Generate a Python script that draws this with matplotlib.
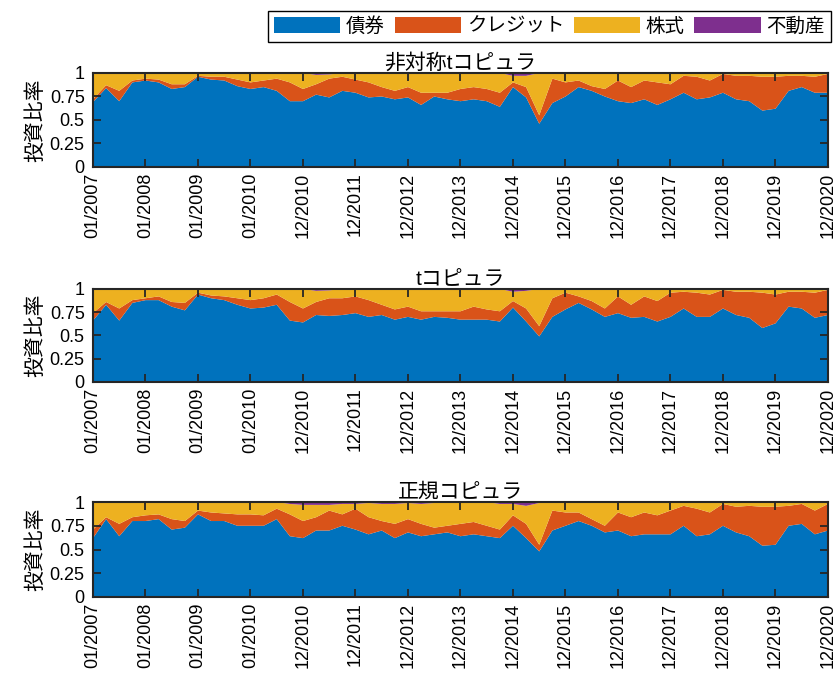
import numpy as np
import matplotlib
matplotlib.use("Agg")
import matplotlib.pyplot as plt
from matplotlib.patches import Patch

plt.rcParams['font.family'] = ['Liberation Sans', 'Noto Sans CJK JP', 'DejaVu Sans']

# 資産クラスと系列名
assets = ['債券', 'クレジット', '株式', '不動産']
colors = ['#0072BD', '#D95319', '#EDB120', '#7E2F8E']
titles = ['非対称tコピュラ', 'tコピュラ', '正規コピュラ']
tick_labels = ['01/2007', '01/2008', '01/2009', '01/2010', '12/2010', '12/2011',
               '12/2012', '12/2013', '12/2014', '12/2015', '12/2016', '12/2017',
               '12/2018', '12/2019', '12/2020']

# 非対称tコピュラ (画像から読み取り、約3か月ごと)
bond_asym = [0.69, 0.84, 0.70, 0.90, 0.92, 0.90, 0.83, 0.85, 0.96, 0.93,
             0.92, 0.86, 0.83, 0.85, 0.81, 0.70, 0.70, 0.77, 0.74, 0.81,
             0.79, 0.74, 0.75, 0.72, 0.74, 0.66, 0.75, 0.72, 0.70, 0.72,
             0.70, 0.64, 0.85, 0.74, 0.46, 0.68, 0.75, 0.85, 0.81, 0.75,
             0.70, 0.68, 0.72, 0.66, 0.72, 0.79, 0.72, 0.74, 0.79, 0.72,
             0.70, 0.60, 0.62, 0.81, 0.85, 0.79, 0.79]
credit_asym = [0.03, 0.03, 0.11, 0.02, 0.02, 0.03, 0.05, 0.03, 0.01, 0.03,
               0.04, 0.07, 0.07, 0.07, 0.13, 0.20, 0.13, 0.11, 0.20, 0.15,
               0.14, 0.16, 0.10, 0.09, 0.11, 0.13, 0.04, 0.07, 0.13, 0.13,
               0.13, 0.15, 0.05, 0.11, 0.09, 0.26, 0.15, 0.07, 0.05, 0.08,
               0.22, 0.17, 0.20, 0.24, 0.16, 0.18, 0.24, 0.18, 0.20, 0.25,
               0.27, 0.36, 0.34, 0.16, 0.12, 0.17, 0.20]
reit_asym = [0, 0.005, 0, 0, 0, 0, 0, 0, 0, 0,
             0, 0, 0, 0, 0, 0, 0, 0.02, 0.015, 0,
             0.005, 0.005, 0, 0, 0, 0, 0, 0, 0, 0.005,
             0, 0, 0.03, 0.03, 0, 0, 0, 0, 0, 0,
             0, 0, 0, 0, 0, 0, 0, 0, 0, 0,
             0, 0, 0.005, 0, 0, 0, 0]

# tコピュラ
bond_t = [0.66, 0.83, 0.66, 0.85, 0.88, 0.88, 0.81, 0.77, 0.94, 0.90,
          0.88, 0.83, 0.79, 0.80, 0.83, 0.66, 0.64, 0.72, 0.71, 0.72,
          0.74, 0.70, 0.72, 0.67, 0.70, 0.67, 0.70, 0.69, 0.67, 0.67,
          0.67, 0.65, 0.80, 0.65, 0.49, 0.70, 0.78, 0.85, 0.78, 0.70,
          0.74, 0.69, 0.70, 0.65, 0.70, 0.79, 0.70, 0.70, 0.79, 0.72,
          0.69, 0.58, 0.63, 0.81, 0.79, 0.69, 0.72]
credit_t = [0.08, 0.03, 0.13, 0.03, 0.02, 0.04, 0.05, 0.08, 0.02, 0.03,
            0.04, 0.07, 0.09, 0.10, 0.11, 0.20, 0.15, 0.14, 0.19, 0.18,
            0.18, 0.18, 0.11, 0.11, 0.11, 0.09, 0.06, 0.07, 0.09, 0.14,
            0.11, 0.11, 0.07, 0.14, 0.11, 0.20, 0.18, 0.07, 0.09, 0.09,
            0.18, 0.14, 0.22, 0.22, 0.26, 0.18, 0.26, 0.24, 0.20, 0.25,
            0.28, 0.38, 0.31, 0.16, 0.18, 0.27, 0.27]
reit_t = [0, 0.005, 0, 0, 0, 0, 0, 0, 0, 0,
          0, 0, 0, 0, 0, 0, 0, 0.02, 0.015, 0,
          0.005, 0, 0, 0, 0, 0, 0, 0, 0, 0,
          0, 0, 0.03, 0.02, 0, 0, 0, 0, 0, 0,
          0, 0, 0, 0, 0, 0, 0, 0, 0, 0,
          0, 0, 0.01, 0, 0, 0, 0]

# 正規コピュラ
bond_norm = [0.62, 0.82, 0.64, 0.80, 0.80, 0.82, 0.71, 0.73, 0.87, 0.80,
             0.80, 0.75, 0.75, 0.75, 0.82, 0.64, 0.62, 0.70, 0.70, 0.75,
             0.71, 0.66, 0.70, 0.62, 0.68, 0.64, 0.66, 0.68, 0.64, 0.66,
             0.64, 0.62, 0.75, 0.62, 0.48, 0.70, 0.75, 0.80, 0.75, 0.68,
             0.70, 0.64, 0.66, 0.66, 0.66, 0.75, 0.64, 0.66, 0.75, 0.68,
             0.64, 0.54, 0.55, 0.75, 0.77, 0.66, 0.70]
credit_norm = [0.09, 0.02, 0.13, 0.04, 0.06, 0.05, 0.11, 0.07, 0.04, 0.09,
               0.08, 0.12, 0.12, 0.11, 0.11, 0.23, 0.18, 0.14, 0.21, 0.12,
               0.22, 0.18, 0.10, 0.15, 0.14, 0.13, 0.07, 0.07, 0.13, 0.13,
               0.11, 0.09, 0.11, 0.15, 0.07, 0.21, 0.14, 0.09, 0.07, 0.07,
               0.19, 0.20, 0.23, 0.20, 0.25, 0.21, 0.29, 0.23, 0.23, 0.27,
               0.32, 0.41, 0.40, 0.21, 0.21, 0.25, 0.28]
reit_norm = [0.01, 0.01, 0, 0, 0, 0, 0, 0, 0, 0,
             0, 0, 0, 0, 0, 0.02, 0.03, 0.03, 0.03, 0.02,
             0.02, 0.01, 0.02, 0.02, 0.01, 0.02, 0.01, 0, 0.01, 0.01,
             0, 0.02, 0.02, 0.04, 0.01, 0, 0, 0, 0, 0,
             0, 0, 0, 0, 0.01, 0, 0, 0, 0, 0,
             0, 0, 0.01, 0, 0, 0, 0]

panels = [(bond_asym, credit_asym, reit_asym),
          (bond_t, credit_t, reit_t),
          (bond_norm, credit_norm, reit_norm)]

# 軸の位置 (図に対する割合)
positions = [[0.1107, 0.7573, 0.875, 0.1366],
             [0.1107, 0.4448, 0.875, 0.1352],
             [0.1107, 0.1323, 0.875, 0.1380]]

fig = plt.figure(figsize=(8.4, 6.88), dpi=100)

for pos, title, (bond, credit, reit) in zip(positions, titles, panels):
    ax = fig.add_axes(pos)
    bond = np.array(bond)
    credit = np.array(credit)
    reit = np.array(reit)
    stock = 1 - bond - credit - reit  # 残りは株式
    x = np.arange(len(bond))
    ax.stackplot(x, bond, credit, stock, reit, colors=colors, linewidth=0)
    ax.set_xlim(0, len(bond) - 1)
    ax.set_ylim(0, 1)
    ax.set_yticks([0, 0.25, 0.5, 0.75, 1])
    ax.set_yticklabels(['0', '0.25', '0.5', '0.75', '1'], fontsize=13)
    ax.set_xticks(np.arange(0, len(bond), 4))
    ax.set_xticklabels(tick_labels, rotation=90, fontsize=13)
    ax.tick_params(direction='in', length=6, width=1.3, top=True, right=True,
                   color='#262626')
    ax.tick_params(axis='y', pad=6)
    ax.tick_params(axis='x', pad=4)
    for s in ax.spines.values():
        s.set_linewidth(1.5)
        s.set_color('#262626')
    ax.set_title(title, fontsize=15, pad=3)
    ax.set_ylabel('投資比率', fontsize=15, labelpad=3)

handles = [Patch(facecolor=c) for c in colors]
fig.legend(handles, assets, ncol=4, loc='upper right',
           bbox_to_anchor=(0.989, 0.984), fontsize=14, fancybox=False,
           edgecolor='black', framealpha=1, handlelength=3.4, handleheight=0.9,
           columnspacing=0.5, handletextpad=0.3, borderpad=0.3,
           borderaxespad=0)

fig.savefig('out.png', dpi=100)
